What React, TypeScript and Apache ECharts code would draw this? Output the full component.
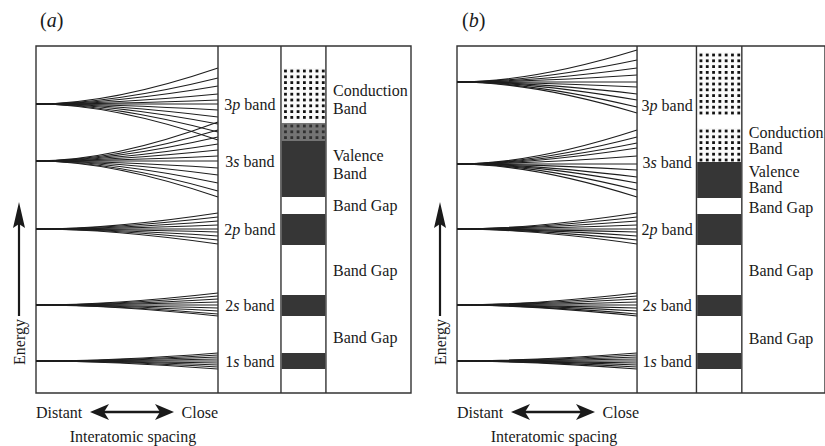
import React, { useEffect, useRef } from "react";
import * as echarts from "echarts";

// ---------- data ----------
const levelNames = ["1s", "2s", "2p", "3s", "3p"];
const levelEnergyA = [32, 88, 164, 232, 289];
const levelEnergyB = [32, 88, 164, 229, 311];

// energy offsets of each split level at close spacing (relative to atomic level)
const fan1s = [8, 6, 4, 2, 0, -2, -4, -6, -8];
const fan2s = [12, 9, 6, 3, 0, -3, -6, -9, -11];
const fan2p = [16, 12, 8, 4, 0, -3, -7, -11, -15];
const fan3sA = [39, 31, 24, 17, 11, 5, 0, -7, -14, -22, -30, -36];
const fan3pA = [36, 26, 18, 10, 4, 0, -6, -13, -20, -28, -36];
const fan3sB = [34, 27, 21, 16, 8, 0, -6, -13, -19, -26, -33];
const fan3pB = [32, 22, 14, 7, 0, -5, -12, -18, -25, -31];

// bands: [from, to, kind] kind 0 = filled, 1 = dotted (empty), 2 = dotted partly filled
const bandsA = [
  [270, 325, 1],
  [252, 270, 2],
  [196, 252, 0],
  [148, 179, 0],
  [77, 98, 0],
  [24, 40, 0],
];
const bandsB = [
  [278, 341, 1],
  [231, 265, 1],
  [195, 231, 0],
  [148, 179, 0],
  [77, 98, 0],
  [24, 40, 0],
];

const rightLabelsA = ["Conduction\nBand", "Valence\nBand", "Band Gap", "Band Gap", "Band Gap"];
const rightEnergyA = [294, 229, 188, 123, 56];
const rightLabelsB = ["Conduction\nBand", "Valence\nBand", "Band Gap", "Band Gap", "Band Gap"];
const rightEnergyB = [252.5, 214, 186, 123, 55];

const bandLabelEnergyA = [32, 88, 164, 232, 289];
const bandLabelEnergyB = [32, 88, 164, 231, 288];

const ENERGY_MAX = 347;

const FONT = "'Liberation Serif', 'DejaVu Serif', serif";
const INK = "#1a1a1a";

type Panel = {
  left: number;
  width: number;
  xMax: number;
  dividers: number[];
  bandLeft: number;
  bandRight: number;
  labelCenter: number;
  rightLabelX: number;
  lineHeights: number[];
  levels: number[];
  fans: number[][];
  bands: number[][];
  rightLabels: string[];
  rightEnergy: number[];
  bandLabelEnergy: number[];
};

const panels: Panel[] = [
  {
    left: 36,
    width: 375,
    xMax: 375 / 182,
    dividers: [1, 1.346, 1.593],
    bandLeft: 1.346,
    bandRight: 1.593,
    labelCenter: 1.175,
    rightLabelX: 1.632,
    lineHeights: [18, 18, 16, 16, 16],
    levels: levelEnergyA,
    fans: [fan1s, fan2s, fan2p, fan3sA, fan3pA],
    bands: bandsA,
    rightLabels: rightLabelsA,
    rightEnergy: rightEnergyA,
    bandLabelEnergy: bandLabelEnergyA,
  },
  {
    left: 457,
    width: 372,
    xMax: 372 / 182,
    dividers: [1, 1.33, 1.582],
    bandLeft: 1.33,
    bandRight: 1.582,
    labelCenter: 1.167,
    rightLabelX: 1.621,
    lineHeights: [16, 16, 16, 16, 16],
    levels: levelEnergyB,
    fans: [fan1s, fan2s, fan2p, fan3sB, fan3pB],
    bands: bandsB,
    rightLabels: rightLabelsB,
    rightEnergy: rightEnergyB,
    bandLabelEnergy: bandLabelEnergyB,
  },
];

function buildOption() {
  const grids: any[] = [];
  const xAxes: any[] = [];
  const yAxes: any[] = [];
  const series: any[] = [];
  const graphics: any[] = [];

  panels.forEach((p, pi) => {
    grids.push({
      left: p.left,
      top: 46,
      width: p.width,
      height: 347,
      show: true,
      borderColor: "#333",
      borderWidth: 1.4,
      backgroundColor: "#fff",
    });
    xAxes.push({ type: "value", gridIndex: pi, min: 0, max: p.xMax, show: false });
    yAxes.push({ type: "value", gridIndex: pi, min: 0, max: ENERGY_MAX, show: false });

    // dividers
    series.push({
      type: "custom",
      xAxisIndex: pi,
      yAxisIndex: pi,
      silent: true,
      z: 5,
      data: p.dividers.map((d) => [d, 0]),
      renderItem: (params: any, api: any) => {
        const a = api.coord([api.value(0), 0]);
        const b = api.coord([api.value(0), ENERGY_MAX]);
        return {
          type: "line",
          shape: { x1: a[0], y1: a[1], x2: b[0], y2: b[1] },
          style: { stroke: "#333", lineWidth: 1.4 },
        };
      },
    });

    // fans
    const fanData: number[][] = [];
    p.fans.forEach((offs, li) => {
      offs.forEach((o) => fanData.push([p.levels[li], p.levels[li] + o]));
    });
    series.push({
      type: "custom",
      xAxisIndex: pi,
      yAxisIndex: pi,
      silent: true,
      clip: false,
      data: fanData,
      renderItem: (params: any, api: any) => {
        const lv = api.value(0);
        const end = api.value(1);
        const s = api.coord([0, lv]);
        const e = api.coord([1, end]);
        const c = api.coord([0.42, lv]);
        return {
          type: "bezierCurve",
          shape: { x1: s[0], y1: s[1], x2: e[0], y2: e[1], cpx1: c[0], cpy1: c[1] },
          style: { stroke: "#1e1e1e", lineWidth: 1.2, fill: "none" },
        };
      },
    });

    // bands
    series.push({
      type: "custom",
      xAxisIndex: pi,
      yAxisIndex: pi,
      silent: true,
      data: p.bands,
      renderItem: (params: any, api: any) => {
        const from = api.value(0);
        const to = api.value(1);
        const kind = api.value(2);
        const tl = api.coord([p.bandLeft, to]);
        const br = api.coord([p.bandRight, from]);
        const x0 = tl[0] + 0.7;
        const y0 = tl[1];
        const w = br[0] - tl[0] - 1.4;
        const h = br[1] - tl[1];
        const children: any[] = [];
        const bg = kind === 0 ? "#363636" : kind === 2 ? "#747474" : "#fafafa";
        children.push({
          type: "rect",
          shape: { x: x0, y: y0, width: w, height: h },
          style: { fill: bg },
        });
        if (kind !== 0) {
          const dot = 2.8;
          for (let yy = y0 + 1.6; yy + dot <= y0 + h + 0.8; yy += 5.8) {
            for (let xx = x0 + 2.4; xx + dot <= x0 + w + 0.5; xx += 6.3) {
              children.push({
                type: "rect",
                shape: { x: xx, y: yy, width: dot, height: dot },
                style: { fill: kind === 2 ? "#303030" : "#111" },
              });
            }
          }
        }
        return { type: "group", children };
      },
    });

    // band names next to fans
    series.push({
      type: "custom",
      xAxisIndex: pi,
      yAxisIndex: pi,
      silent: true,
      clip: false,
      data: p.bandLabelEnergy.map((e) => [p.labelCenter, e]),
      renderItem: (params: any, api: any) => {
        const pt = api.coord([api.value(0), api.value(1)]);
        const nm = levelNames[params.dataIndex];
        return {
          type: "text",
          x: pt[0],
          y: pt[1],
          style: {
            text: nm[0] + "{i|" + nm[1] + "} band",
            fontFamily: FONT,
            fontSize: 16,
            fill: INK,
            align: "center",
            verticalAlign: "middle",
            rich: { i: { fontStyle: "italic", fontFamily: FONT, fontSize: 16, fill: INK } },
          },
        };
      },
    });

    // right labels
    series.push({
      type: "custom",
      xAxisIndex: pi,
      yAxisIndex: pi,
      silent: true,
      clip: false,
      data: p.rightEnergy.map((e) => [p.rightLabelX, e]),
      renderItem: (params: any, api: any) => {
        const pt = api.coord([api.value(0), api.value(1)]);
        return {
          type: "text",
          x: pt[0],
          y: pt[1],
          style: {
            text: p.rightLabels[params.dataIndex],
            fontFamily: FONT,
            fontSize: 16,
            lineHeight: p.lineHeights[params.dataIndex],
            fill: INK,
            align: "left",
            verticalAlign: "middle",
          },
        };
      },
    });

    // decorations
    const ox = p.left;
    const ex = ox - 17; // energy arrow x
    graphics.push(
      {
        type: "text",
        x: ox + 4 + (pi === 1 ? 1 : 0),
        y: 20,
        style: {
          text: "({i|" + (pi === 0 ? "a" : "b") + "})",
          fontFamily: FONT,
          fontSize: 20,
          fill: INK,
          verticalAlign: "middle",
          rich: { i: { fontStyle: "italic", fontFamily: FONT, fontSize: 20, fill: INK } },
        },
      },
      {
        type: "line",
        shape: { x1: ex, y1: 224, x2: ex, y2: 316 },
        style: { stroke: "#1a1a1a", lineWidth: 2.2 },
      },
      {
        type: "polygon",
        shape: { points: [[ex, 202], [ex - 6, 228], [ex, 224], [ex + 6, 228]] },
        style: { fill: "#1a1a1a" },
      },
      {
        type: "text",
        x: ex,
        y: 342,
        rotation: Math.PI / 2,
        style: {
          text: "Energy",
          fontFamily: FONT,
          fontSize: 16,
          fill: INK,
          align: "center",
          verticalAlign: "middle",
        },
      },
      {
        type: "text",
        x: ox,
        y: 412,
        style: { text: "Distant", fontFamily: FONT, fontSize: 16, fill: INK, verticalAlign: "middle" },
      },
      {
        type: "text",
        x: ox + 182,
        y: 412,
        style: { text: "Close", fontFamily: FONT, fontSize: 16, fill: INK, align: "right", verticalAlign: "middle" },
      },
      {
        type: "line",
        shape: { x1: ox + 66, y1: 412, x2: ox + 126, y2: 412 },
        style: { stroke: "#1a1a1a", lineWidth: 2.4 },
      },
      {
        type: "polygon",
        shape: { points: [[ox + 54, 412], [ox + 73, 404], [ox + 68, 412], [ox + 73, 420]] },
        style: { fill: "#1a1a1a" },
      },
      {
        type: "polygon",
        shape: { points: [[ox + 138, 412], [ox + 119, 404], [ox + 124, 412], [ox + 119, 420]] },
        style: { fill: "#1a1a1a" },
      },
      {
        type: "text",
        x: ox + 97,
        y: 436,
        style: {
          text: "Interatomic spacing",
          fontFamily: FONT,
          fontSize: 16,
          fill: INK,
          align: "center",
          verticalAlign: "middle",
        },
      }
    );
  });

  return {
    animation: false,
    backgroundColor: "#fff",
    grid: grids,
    xAxis: xAxes,
    yAxis: yAxes,
    series,
    graphic: graphics,
  };
}

export default function App() {
  const ref = useRef<HTMLDivElement>(null);
  useEffect(() => {
    if (!ref.current) return;
    const chart = echarts.init(ref.current, undefined, { renderer: "svg" });
    chart.setOption(buildOption() as any);
    return () => chart.dispose();
  }, []);
  return (
    <div
      ref={ref}
      style={{ width: 825, height: 446, position: "absolute", left: 0, top: 0 }}
    />
  );
}
